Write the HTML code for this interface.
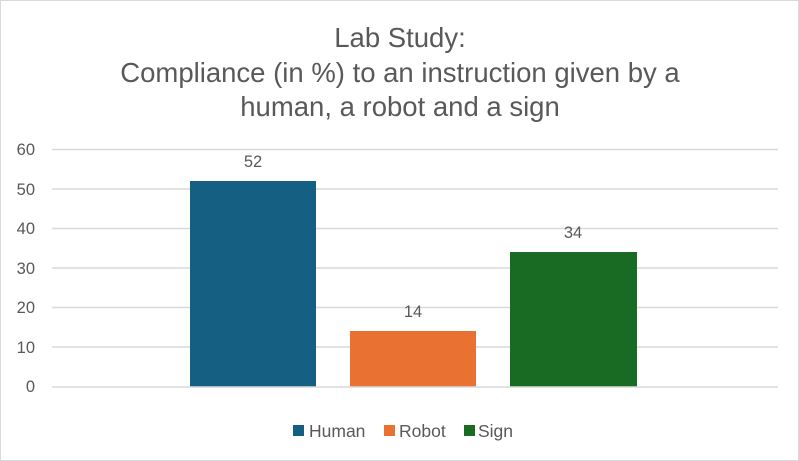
<!DOCTYPE html><html><head><style>
body{margin:0;background:#fff}
svg{display:block}
text{font-family:"Liberation Sans",sans-serif;fill:#595959}
</style></head><body>
<svg width="799" height="461" viewBox="0 0 799 461">
<rect x="0.5" y="0.5" width="798" height="460" fill="#fff" stroke="#d9d9d9"/>
<g font-size="27.5" text-anchor="middle">
<text x="400" y="47">Lab Study:</text>
<text x="400" y="82">Compliance (in %) to an instruction given by a</text>
<text x="400" y="116">human, a robot and a sign</text>
</g>
<g stroke="#d9d9d9" stroke-width="1.5">
<line x1="52" x2="778" y1="149.5" y2="149.5"/>
<line x1="52" x2="778" y1="189" y2="189"/>
<line x1="52" x2="778" y1="228.5" y2="228.5"/>
<line x1="52" x2="778" y1="268" y2="268"/>
<line x1="52" x2="778" y1="307.5" y2="307.5"/>
<line x1="52" x2="778" y1="347" y2="347"/>
</g>
<g font-size="16.5" text-anchor="end">
<text x="35" y="155">60</text><text x="35" y="195">50</text><text x="35" y="234">40</text>
<text x="35" y="274">30</text><text x="35" y="313">20</text><text x="35" y="353">10</text><text x="35" y="392">0</text>
</g>
<rect x="190" y="181" width="126" height="206" fill="#156082"/>
<rect x="350" y="331" width="126" height="56" fill="#E97132"/>
<rect x="510" y="252" width="127" height="135" fill="#196B24"/>
<line x1="52" x2="778" y1="387" y2="387" stroke="#d9d9d9" stroke-width="1.5"/>
<g font-size="16.5" text-anchor="middle">
<text x="253" y="167">52</text><text x="413" y="317">14</text><text x="573" y="238">34</text>
</g>
<g font-size="17.5">
<rect x="293" y="425" width="11" height="11" fill="#156082"/><text x="309" y="437">Human</text>
<rect x="384" y="425" width="11" height="11" fill="#E97132"/><text x="399" y="437">Robot</text>
<rect x="464" y="425" width="11" height="11" fill="#196B24"/><text x="478" y="437">Sign</text>
</g>
</svg>
</body></html>
